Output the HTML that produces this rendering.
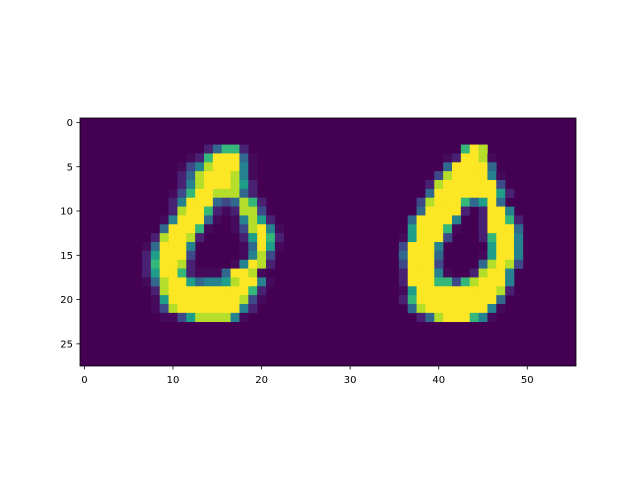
<!DOCTYPE html>
<html><head><meta charset="utf-8"><style>
body{margin:0;background:#fff}
svg text{font-family:"DejaVu Sans","Liberation Sans",sans-serif;font-size:10px;fill:#000}
</style></head><body>
<svg id="chart" width="640" height="480" xmlns="http://www.w3.org/2000/svg">
<rect width="640" height="480" fill="#fff"/>
<g id="cells"></g>
<g id="axes"></g>
</svg>
<script>
// image 28 rows x 56 cols, intensity levels 0..9; rows as [startCol, levels] segments
const nRows = 28;
const nCols = 56;
const rowSegments = {
3:[[14,"24772"],[43,"798"]],
4:[[12,"12799941"],[41,"129981"]],
5:[[11,"135899951"],[41,"499994"]],
6:[[11,"248999851"],[40,"38999951"]],
7:[[11,"258999862"],[39,"289999993"]],
8:[[10,"1379988842"],[39,"4999999962"]],
9:[[10,"25999434872"],[38,"3899974694"]],
10:[[10,"28997212883"],[38,"49999202995"]],
11:[[9,"1599941015862"],[37,"4999950029972"]],
12:[[9,"49997100138951"],[37,"6999710029994"]],
13:[[8,"289982000026972"],[36,"16999300027995"]],
14:[[7,"1499950000014961"],[36,"39995000006995"]],
15:[[7,"269993000001583"],[36,"49994000016995"]],
16:[[7,"279982000015982"],[36,"39993000048983"]],
17:[[7,"26997211149981"],[36,"2999510028995"]],
18:[[7,"148996455689951"],[36,"2999773789995"]],
19:[[8,"2899999999972"],[36,"1699999999982"]],
20:[[8,"1699999999831"],[36,"279999999994"]],
21:[[8,"138999999952"],[37,"48999999951"]],
22:[[9,"1136888851"],[38,"248999751"]]
};
const xTicks = [0,10,20,30,40,50];
const yTicks = [0,5,10,15,20,25];
const palette = ["#440154","#460a5d","#482173","#3e4989","#31688e","#26828e","#1f9e89","#35b779","#b5de2b","#fde725"];

const L=80, T=118, W=496, H=248;
const cw = W/nCols, ch = H/nRows;
const xs = c => L + (c+0.5)*cw;
const ys = r => T + (r+0.5)*ch;
const NS="http://www.w3.org/2000/svg";
const cells=document.getElementById('cells');
const bg=document.createElementNS(NS,'rect');


bg.setAttribute('x',L);bg.setAttribute('y',T);bg.setAttribute('width',W);bg.setAttribute('height',H);bg.setAttribute('fill',palette[0]);
cells.appendChild(bg);
for(const r in rowSegments){
  for(const [c0,s] of rowSegments[r]){
    for(let i=0;i<s.length;i++){
      const v=+s[i]; if(!v) continue;
      const c=c0+i;
      const el=document.createElementNS(NS,'rect');
      
      
      el.setAttribute('x',(xs(c)-cw/2).toFixed(2));
      el.setAttribute('y',(ys(+r)-ch/2).toFixed(2));
      el.setAttribute('width',(cw+0.3).toFixed(2));
      el.setAttribute('height',(ch+0.3).toFixed(2));
      el.setAttribute('fill',palette[v]);
      cells.appendChild(el);
    }
  }
}
const ax=document.getElementById('axes');
function add(tag,attrs,name,text){
  const el=document.createElementNS(NS,tag);
  for(const k in attrs) el.setAttribute(k,attrs[k]);
  
  
  if(text!==undefined) el.textContent=text;
  ax.appendChild(el);
}
add('rect',{x:L,y:T,width:W,height:H,fill:'none',stroke:'#000','stroke-width':0.8},'axes-frame');
for(const t of xTicks){
  add('line',{x1:xs(t),x2:xs(t),y1:T+H,y2:T+H+3.5,stroke:'#000','stroke-width':0.8},'x-tick');
  add('text',{x:xs(t),y:T+H+17,'text-anchor':'middle'},'x-tick-label',String(t));
}
for(const t of yTicks){
  add('line',{x1:L-3.5,x2:L,y1:ys(t),y2:ys(t),stroke:'#000','stroke-width':0.8},'y-tick');
  add('text',{x:L-7,y:ys(t)+3.6,'text-anchor':'end'},'y-tick-label',String(t));
}
</script>
</body></html>
